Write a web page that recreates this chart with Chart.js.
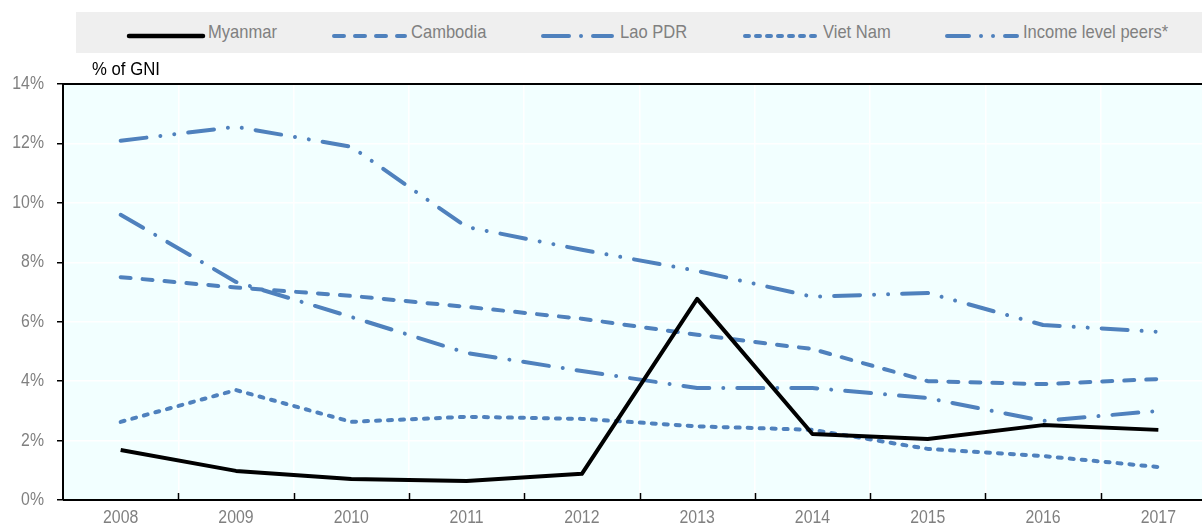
<!DOCTYPE html>
<html>
<head>
<meta charset="utf-8">
<script src="https://cdn.jsdelivr.net/npm/chart.js@4.4.1/dist/chart.umd.min.js"></script>
<style>
  html, body { margin:0; padding:0; background:#fff; overflow:hidden; width:1202px; height:528px; }
  #wrap { position:relative; width:1202px; height:528px; overflow:hidden; }
  canvas { position:absolute; left:0; top:0; }
  #legend { position:absolute; left:76px; top:12px; width:1140px; height:41px; background:#efefef; }
  .sample { position:absolute; top:15px; }
  .txt { position:absolute; top:0; height:41px; line-height:40px; font-family:"Liberation Sans",Arial,sans-serif; font-size:19px; color:#808080; transform:scaleX(0.87); transform-origin:0 50%; white-space:nowrap; }
  #unit { position:absolute; left:92px; top:59px; font-family:"Liberation Sans",Arial,sans-serif; font-size:18px; color:#000; transform:scaleX(0.93); transform-origin:0 50%; white-space:nowrap; }
</style>
</head>
<body>
<div id="wrap">
  <canvas id="c" width="1216" height="528"></canvas>
  <div id="legend"></div>
  <div id="unit">% of GNI</div>
</div>
<script>
const years = ["2008","2009","2010","2011","2012","2013","2014","2015","2016","2017"];
const myanmar = [1.68, 0.98, 0.71, 0.64, 0.88, 6.77, 2.22, 2.05, 2.52, 2.36];
const cambodia = [7.50, 7.15, 6.87, 6.50, 6.10, 5.56, 5.08, 4.00, 3.90, 4.07];
const laoPDR = [9.60, 7.34, 6.16, 4.95, 4.34, 3.77, 3.77, 3.43, 2.66, 3.00];
const vietNam = [2.63, 3.70, 2.63, 2.80, 2.73, 2.48, 2.36, 1.72, 1.48, 1.11];
const incomePeers = [12.09, 12.56, 11.89, 9.19, 8.42, 7.71, 6.84, 6.97, 5.89, 5.66];
const seriesNames = ["Myanmar","Cambodia","Lao PDR","Viet Nam","Income level peers*"];
const yTicks = [0, 2, 4, 6, 8, 10, 12, 14];

const BLUE = '#4f81bd';
const styles = [
  { color:'#000000', dash:[], cap:'butt' },
  { color:BLUE, dash:[10,12], cap:'round' },
  { color:BLUE, dash:[26,14,0.01,14], cap:'round' },
  { color:BLUE, dash:[4,8], cap:'round' },
  { color:BLUE, dash:[26,14,0.01,14,0.01,14], cap:'round' }
];
const seriesData = [myanmar, cambodia, laoPDR, vietNam, incomePeers];

const datasets = seriesData.map((d,i)=>({
  label: seriesNames[i],
  data: d,
  borderColor: styles[i].color,
  backgroundColor: styles[i].color,
  borderWidth: 4,
  borderDash: styles[i].dash,
  borderCapStyle: styles[i].cap,
  borderJoinStyle: 'round',
  pointRadius: 0,
  tension: 0,
  fill: false
}));

// HTML legend (positions relative to legend band at x=76)
const samplePos = [[53,127],[256,329],[465,536],[667,742],[869,941]];
const textPos = [132,335,544,747,947];
const legendDash = [null,'10,11','26,12,0.01,12','4,7','22,12,0.01,12,0.01,12'];
const legend = document.getElementById('legend');
seriesNames.forEach((n,i)=>{
  const st = styles[i];
  const [a,b] = samplePos[i];
  const w = b - a + 6;
  const s = document.createElement('div');
  s.className = 'sample';
  s.style.left = (a-3)+'px';
  const da = legendDash[i] ? `stroke-dasharray="${legendDash[i]}"` : '';
  s.innerHTML = `<svg width="${w}" height="10"><line x1="${i===0?3:5}" y1="5" x2="${w-3}" y2="5" stroke="${st.color}" stroke-width="${i===0?4.5:4}" stroke-linecap="${i===0?'round':'round'}" ${da}/></svg>`;
  legend.appendChild(s);
  const t = document.createElement('div');
  t.className = 'txt';
  t.style.left = textPos[i]+'px';
  t.textContent = n;
  legend.appendChild(t);
});

const FONT = "'Liberation Sans',Arial,sans-serif";

const bgPlugin = {
  id:'bg',
  beforeDraw(chart){
    const {ctx, chartArea:a} = chart;
    ctx.save();
    ctx.fillStyle = '#f2ffff';
    ctx.fillRect(a.left, a.top, a.right-a.left, a.bottom-a.top);
    ctx.restore();
  },
  afterDatasetsDraw(chart){
    const {ctx, chartArea:a, scales} = chart;
    ctx.save();
    ctx.strokeStyle = '#000';
    ctx.lineWidth = 2;
    ctx.beginPath();
    ctx.moveTo(a.left, a.top); ctx.lineTo(a.right, a.top);
    ctx.moveTo(a.left, a.top); ctx.lineTo(a.left, a.bottom);
    ctx.moveTo(a.left, a.bottom); ctx.lineTo(a.right, a.bottom);
    ctx.stroke();
    // inward ticks on x-axis at category boundaries
    const x = scales.x;
    const step = x.getPixelForValue(1) - x.getPixelForValue(0);
    ctx.lineWidth = 1.5;
    ctx.beginPath();
    for (let i=0;i<years.length;i++){
      const xx = x.getPixelForValue(i) + step/2;
      ctx.moveTo(Math.round(xx)+0.5, a.bottom);
      ctx.lineTo(Math.round(xx)+0.5, a.bottom-7);
    }
    ctx.stroke();
    ctx.restore();
  },
  afterDraw(chart){
    // condensed tick labels (Arial Narrow look)
    const {ctx, scales} = chart;
    const sx = 0.88;
    ctx.save();
    ctx.fillStyle = '#808080';
    ctx.font = "18px " + FONT;
    ctx.textBaseline = 'middle';
    // y labels
    ctx.textAlign = 'right';
    yTicks.forEach(v=>{
      const py = scales.y.getPixelForValue(v);
      ctx.save();
      ctx.translate(44, py);
      ctx.scale(sx, 1);
      ctx.fillText(v + '%', 0, 0);
      ctx.restore();
    });
    // x labels
    ctx.textAlign = 'center';
    years.forEach((yr,i)=>{
      const px = scales.x.getPixelForValue(i);
      ctx.save();
      ctx.translate(px, 518.5);
      ctx.scale(sx, 1);
      ctx.fillText(yr, 0, 0);
      ctx.restore();
    });
    ctx.restore();
  }
};

new Chart(document.getElementById('c'), {
  type:'line',
  data:{ labels: years, datasets },
  options:{
    responsive:false,
    animation:false,
    devicePixelRatio:1,
    layout:{ padding:{ top:84, right:0, left:0, bottom:0 } },
    plugins:{ legend:{display:false}, tooltip:{enabled:false} },
    scales:{
      x:{
        offset:true,
        grid:{ offset:true, color:'#ffffff', lineWidth:1.5, drawTicks:false },
        border:{ display:false },
        ticks:{ display:false },
        afterFit(s){ s.height = 28; }
      },
      y:{
        min:0, max:14,
        afterBuildTicks(s){ s.ticks = yTicks.map(v=>({value:v})); },
        grid:{ color:'#ffffff', lineWidth:1.5, tickColor:'#000', tickLength:6, tickWidth:1.5 },
        border:{ display:false },
        ticks:{ display:false },
        afterFit(s){ s.width = 63; }
      }
    }
  },
  plugins:[bgPlugin]
});
</script>
</body>
</html>
